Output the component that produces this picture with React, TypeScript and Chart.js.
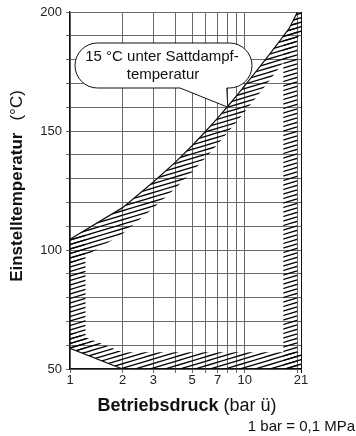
import React, { useEffect, useRef } from 'react';
import { Chart, registerables } from 'chart.js';

Chart.register(...registerables);

// ---------- data ----------
const pressureGridTicks = [1, 2, 3, 4, 5, 6, 7, 8, 9, 10, 20, 21];
const pressureTickLabels = [1, 2, 3, 5, 7, 10, 21];
const tempTickLabels = [50, 100, 150, 200];

// saturation temperature minus 15 °C (gauge pressure)
const satPressure = [1, 2, 3, 4, 5, 6, 7, 8, 9, 10, 12, 14, 16, 18, 20, 21];
const satTemp15 = [104.5, 117.8, 128.6, 136.8, 143.8, 150.0, 155.4, 160.4, 164.9, 169.1, 176.3, 182.6, 188.2, 193.2, 199.9, 202.2];
// inner edge of the hatched band below the saturation line
const bandInnerTemp = [93.5, 106.8, 117.6, 125.8, 132.8, 139.0, 144.4, 149.4, 153.9, 158.1, 165.3, 171.6, 177.2, 182.2, 188.9, 191.2];

// lower boundary line
const bottomPressure = [1, 2, 21];
const bottomTemp = [58.7, 50, 50];
const bottomInnerTemp = [66, 57, 57];

// left hatched strip
const leftPressure = [1, 1.23];
const leftTopTemp = [104.5, 108.5];
const leftBottomTemp = [58.7, 56.1];

// right hatched strip
const rightPressure = [16.6, 18, 20];
const rightTopTemp = [189.9, 193.2, 199.9];
const rightBottomTemp = [50, 50, 50];

// callout anchor
const calloutPressure = 8;
const calloutTemp = 160;
const calloutLines = ['15 °C unter Sattdampf-', 'temperatur'];

const FONT = "'Liberation Sans', Arial, Helvetica, sans-serif";

function pts(xs: number[], ys: number[]) {
  return xs.map((x, i) => ({ x, y: ys[i] }));
}

function makeHatch(): CanvasPattern | string {
  const W = 30;
  const H = 9;
  const c = document.createElement('canvas');
  c.width = W;
  c.height = H;
  const g = c.getContext('2d');
  if (!g) return '#999';
  g.strokeStyle = '#000';
  g.lineWidth = 1.2;
  for (let k = -2; k <= 6; k++) {
    const y0 = k * 4.5;
    g.beginPath();
    g.moveTo(-2, y0 + 0.6);
    g.lineTo(W + 2, y0 - 9 - 0.6);
    g.stroke();
  }
  return g.createPattern(c, 'repeat') || '#999';
}

const decorPlugin = {
  id: 'decor',
  afterDraw(chart: any) {
    const { ctx } = chart;
    const xs = chart.scales.x;
    const ys = chart.scales.y;
    // ---- callout bubble ----
    const tipX = xs.getPixelForValue(calloutPressure);
    const tipY = ys.getPixelForValue(calloutTemp);
    const x0 = 75, x1 = 252, y0 = 43, y1 = 88;
    const r = (y1 - y0) / 2;
    ctx.save();
    ctx.beginPath();
    ctx.moveTo(x0 + r, y0);
    ctx.lineTo(x1 - r, y0);
    ctx.arc(x1 - r, y0 + r, r, -Math.PI / 2, Math.PI / 2, false);
    ctx.lineTo(tipX - 1, y1);
    ctx.lineTo(tipX, tipY);
    ctx.lineTo(180, y1);
    ctx.lineTo(x0 + r, y1);
    ctx.arc(x0 + r, y0 + r, r, Math.PI / 2, Math.PI * 1.5, false);
    ctx.closePath();
    ctx.fillStyle = '#fff';
    ctx.fill();
    ctx.strokeStyle = '#111';
    ctx.lineWidth = 1;
    ctx.stroke();
    ctx.fillStyle = '#111';
    ctx.font = `15px ${FONT}`;
    ctx.textAlign = 'center';
    ctx.textBaseline = 'middle';
    ctx.fillText(calloutLines[0], 162, 57);
    ctx.fillText(calloutLines[1], 163, 75);
    ctx.restore();

    // ---- x title ----
    ctx.save();
    ctx.fillStyle = '#111';
    ctx.textBaseline = 'middle';
    ctx.textAlign = 'left';
    const bold = 'Betriebsdruck';
    const norm = ' (bar ü)';
    ctx.font = `bold 18px ${FONT}`;
    const wb = ctx.measureText(bold).width;
    ctx.font = `18px ${FONT}`;
    const wn = ctx.measureText(norm).width;
    const sx = 187 - (wb + wn) / 2;
    ctx.font = `bold 18px ${FONT}`;
    ctx.fillText(bold, sx, 406);
    ctx.font = `18px ${FONT}`;
    ctx.fillText(norm, sx + wb, 406);

    // ---- note ----
    ctx.font = `15px ${FONT}`;
    ctx.textAlign = 'right';
    ctx.fillText('1 bar = 0,1 MPa', 355, 427);
    ctx.restore();

    // ---- y title ----
    ctx.save();
    ctx.translate(17, 186);
    ctx.rotate(-Math.PI / 2);
    ctx.fillStyle = '#111';
    ctx.textBaseline = 'middle';
    ctx.textAlign = 'left';
    const yb = 'Einstelltemperatur';
    const yn = '(°C)';
    const gap = 12;
    ctx.font = `bold 17px ${FONT}`;
    const wyb = ctx.measureText(yb).width;
    ctx.font = `17px ${FONT}`;
    const wyn = ctx.measureText(yn).width;
    const start = -(wyb + gap + wyn) / 2;
    ctx.font = `bold 17px ${FONT}`;
    ctx.fillText(yb, start, 0);
    ctx.font = `17px ${FONT}`;
    ctx.fillText(yn, start + wyb + gap, 0);
    ctx.restore();
  },
};

export default function App() {
  const ref = useRef<HTMLCanvasElement | null>(null);

  useEffect(() => {
    if (!ref.current) return;
    const hatch = makeHatch();
    const invisible = {
      borderColor: 'rgba(0,0,0,0)',
      borderWidth: 1,
      pointRadius: 0,
      tension: 0,
    };
    const chart = new Chart(ref.current, {
      type: 'line',
      data: {
        datasets: [
          {
            label: 'sat',
            data: pts(satPressure, satTemp15),
            borderColor: '#111',
            borderWidth: 1.2,
            pointRadius: 0,
            fill: false,
            tension: 0,
          },
          {
            label: 'bottom',
            data: pts(bottomPressure.slice(0, 2), bottomTemp.slice(0, 2)),
            borderColor: '#111',
            borderWidth: 1.2,
            pointRadius: 0,
            fill: false,
            tension: 0,
          },
          {
            ...invisible,
            label: 'bandTop',
            data: pts(satPressure, satTemp15),
            fill: { target: 3, above: hatch, below: hatch },
          },
          { ...invisible, label: 'bandInner', data: pts(satPressure, bandInnerTemp), fill: false },
          {
            ...invisible,
            label: 'leftTop',
            data: pts(leftPressure, leftTopTemp),
            fill: { target: 5, above: hatch, below: hatch },
          },
          { ...invisible, label: 'leftBottom', data: pts(leftPressure, leftBottomTemp), fill: false },
          {
            ...invisible,
            label: 'bottomInner',
            data: pts(bottomPressure, bottomInnerTemp),
            fill: { target: 7, above: hatch, below: hatch },
          },
          { ...invisible, label: 'bottomEdge', data: pts(bottomPressure, bottomTemp), fill: false },
          {
            ...invisible,
            label: 'rightTop',
            data: pts(rightPressure, rightTopTemp),
            fill: { target: 9, above: hatch, below: hatch },
          },
          { ...invisible, label: 'rightBottom', data: pts(rightPressure, rightBottomTemp), fill: false },
        ],
      },
      options: {
        responsive: false,
        animation: false,
        events: [],
        layout: { padding: { left: 0, top: 12, right: 55, bottom: 0 } },
        plugins: {
          legend: { display: false },
          tooltip: { enabled: false },
          title: { display: false },
        },
        scales: {
          x: {
            type: 'logarithmic',
            min: 1,
            max: 21,
            afterBuildTicks: (s: any) => {
              s.ticks = pressureGridTicks.map((v) => ({ value: v }));
            },
            afterFit: (s: any) => {
              s.height = 67;
            },
            ticks: {
              autoSkip: false,
              maxRotation: 0,
              padding: 0,
              color: '#222',
              font: { family: FONT, size: 13 },
              callback: (v: any) => (pressureTickLabels.includes(Number(v)) ? String(v) : ''),
            },
            grid: {
              color: (c: any) => (c.tick && c.tick.value === 21 ? '#111' : '#6a6a6a'),
              lineWidth: 1,
              tickLength: 4,
            },
            border: { color: '#111', width: 1.2 },
          },
          y: {
            type: 'linear',
            min: 50,
            max: 200,
            afterFit: (s: any) => {
              s.width = 70;
            },
            ticks: {
              stepSize: 10,
              autoSkip: false,
              padding: 4,
              color: '#222',
              font: { family: FONT, size: 13 },
              callback: (v: any) => (tempTickLabels.includes(Number(v)) ? String(v) : ''),
            },
            grid: { color: '#6a6a6a', lineWidth: 1, tickLength: 4 },
            border: { color: '#111', width: 1.2 },
          },
        },
      },
      plugins: [decorPlugin],
    } as any);
    return () => chart.destroy();
  }, []);

  return (
    <div style={{ position: 'absolute', left: 0, top: 0, width: 356, height: 436, background: '#fff' }}>
      <canvas ref={ref} width={356} height={436} style={{ width: 356, height: 436, display: 'block' }} />
    </div>
  );
}
